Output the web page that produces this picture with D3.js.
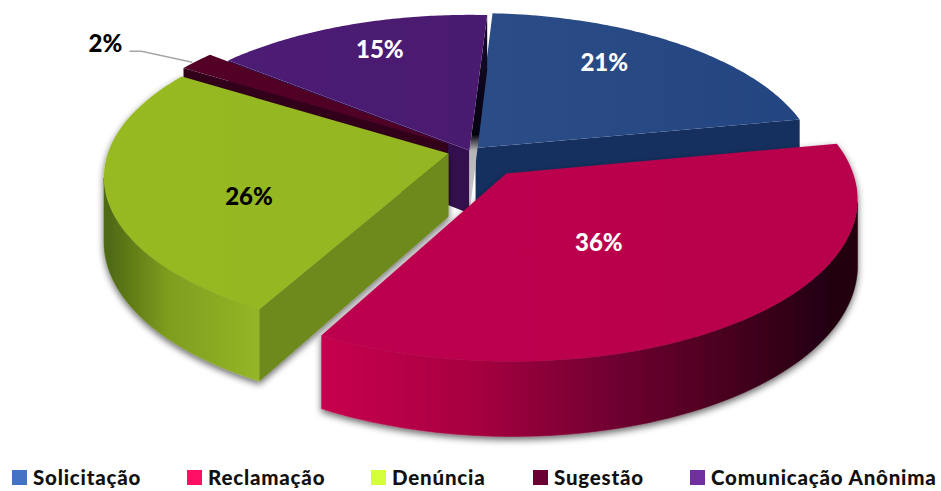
<!DOCTYPE html>
<html><head><meta charset="utf-8">
<script src="https://cdn.jsdelivr.net/npm/d3@7/dist/d3.min.js"></script>
<style>html,body{margin:0;padding:0;background:#fff}svg{display:block}text{font-family:Lato,"Open Sans",sans-serif;font-weight:900}</style>
</head><body><svg id="c" width="941" height="491"></svg>
<script>
const categories = ["Solicitação","Reclamação","Denúncia","Sugestão","Comunicação Anônima"];
const values = [21,36,26,2,15];
const labels = ["21%","36%","26%","2%","15%"];
const legendColors = ["#4472c4","#ff0f64","#d4ff3a","#6b0032","#7030a0"];
const explode = [0.025,0.177,0.065,0.08,0.004];
const topLeft  = ["#35568f","#bf004e","#97ba22","#560028","#4e1c78"];
const topRight = ["#21437f","#b8004c","#8fb01e","#45001e","#451a68"];
const rimStops = [
  [[0,"#16305c"],[1,"#15294f"]],
  [[0.29,"#c8004f"],[0.5,"#a5003f"],[0.68,"#6e0030"],[0.82,"#4a001f"],[0.97,"#200010"]],
  [[0.013,"#4f6a12"],[0.09,"#7f9d1f"],[0.21,"#94b626"]],
  [[0,"#3a0018"],[1,"#3a0018"]],
  [[0,"#3a1458"],[1,"#3a1458"]]];
const faceColor = ["#15305f","#a0003f","#6e8a1e","#33001a","#33104d"];
const labelColor = ["#fff","#fff","#000","#000","#fff"];
const labelAt = [0.62,0.46,0.62,0,0.72];
const labelNudge = [[-1,-18],[-9,6],[10,18],[0,0],[0,-7]];

const svg = d3.select("#c"), defs = svg.append("defs");
const cx=470, cy=151, R=340, K=0.455, G=0.14, D=63, start=3.4*Math.PI/180;
const project=(u,v,z)=>{const s=1/(1+G*v);return [cx+R*u*s, cy-R*K*v*s+z*D*s];};
const arcs=d3.pie().sort(null).startAngle(start).endAngle(start+2*Math.PI)(values);
const xGrad=d3.scaleLinear().domain([0,1]).range([100,860]);

const f=defs.append("filter").attr("id","shadow").attr("x","-10%").attr("y","-10%").attr("width","120%").attr("height","125%");
f.append("feGaussianBlur").attr("in","SourceAlpha").attr("stdDeviation",3.5).attr("result","b");
f.append("feOffset").attr("in","b").attr("dx",0).attr("dy",3).attr("result","o");
f.append("feComponentTransfer").attr("in","o").attr("result","o2").append("feFuncA").attr("type","linear").attr("slope",0.6);
const m=f.append("feMerge");m.append("feMergeNode").attr("in","o2");m.append("feMergeNode").attr("in","SourceGraphic");

arcs.forEach((a,i)=>{
  const g=defs.append("linearGradient").attr("id","rim"+i).attr("gradientUnits","userSpaceOnUse").attr("x1",xGrad(0)).attr("x2",xGrad(1)).attr("y1",0).attr("y2",0);
  rimStops[i].forEach(p=>g.append("stop").attr("offset",p[0]).attr("stop-color",p[1]));
  const t=defs.append("linearGradient").attr("id","top"+i).attr("gradientUnits","userSpaceOnUse").attr("x1",xGrad(0)).attr("x2",xGrad(1)).attr("y1",0).attr("y2",0);
  t.append("stop").attr("offset",0).attr("stop-color",topLeft[i]);
  t.append("stop").attr("offset",1).attr("stop-color",topRight[i]);
});
const gap=defs.append("linearGradient").attr("id","gap").attr("gradientUnits","userSpaceOnUse").attr("x1",0).attr("x2",0).attr("y1",14).attr("y2",215);
[[0,"#1a0c30"],[0.6,"#05020f"],[0.68,"#b4b4b4"],[1,"#cfcfcf"]].forEach(p=>gap.append("stop").attr("offset",p[0]).attr("stop-color",p[1]));

const line=d3.line();
const drawOrder=[0,4,3,2,1];
drawOrder.forEach(i=>{
  const a=arcs[i], mid=(a.startAngle+a.endAngle)/2;
  const ox=explode[i]*Math.sin(mid), oy=explode[i]*Math.cos(mid);
  const P=(th,r,z)=>project(ox+r*Math.sin(th),oy+r*Math.cos(th),z);
  const samples=d3.range(0,81).map(n=>a.startAngle+(a.endAngle-a.startAngle)*n/80);
  const group=svg.append("g").attr("class","slice").attr("filter",(i===1||i===2)?"url(#shadow)":null);
  const vis=samples.filter((th,n)=>{const nxt=samples[Math.min(n+1,80)],prv=samples[Math.max(n-1,0)];return P(nxt,1,0)[0]<P(prv,1,0)[0];});
  if(vis.length>1){
    const pts=vis.map(t=>P(t,1,0)).concat(vis.slice().reverse().map(t=>P(t,1,1)));
    group.append("path").attr("d",line(pts)+"Z").attr("fill",`url(#rim${i})`).attr("stroke",`url(#rim${i})`).attr("stroke-width",0.5);
  }
  const face=(th,sign)=>{
    const A=P(th,0,0),B=P(th,1,0),C=P(th,1,1),E=P(th,0,1);
    const cr=(B[0]-A[0])*(C[1]-B[1])-(B[1]-A[1])*(C[0]-B[0]);
    if(cr*sign>0) group.append("path").attr("d",line([A,B,C,E])+"Z").attr("fill",(i===4&&sign>0)?"url(#gap)":faceColor[i]);
  };
  face(a.startAngle,-1); face(a.endAngle,1);
  const topPts=[P(0,0,0)].concat(samples.map(t=>P(t,1,0)));
  group.append("path").attr("d",line(topPts)+"Z").attr("fill",`url(#top${i})`);
});

arcs.forEach((a,i)=>{
  if(i===3) return;
  const mid=(a.startAngle+a.endAngle)/2, r=labelAt[i];
  const p=project(explode[i]*Math.sin(mid)+r*Math.sin(mid),explode[i]*Math.cos(mid)+r*Math.cos(mid),0);
  svg.append("text").attr("x",p[0]+labelNudge[i][0]).attr("y",p[1]+labelNudge[i][1]).attr("text-anchor","middle").attr("dy","0.35em").attr("font-size",24).attr("fill",labelColor[i]).text(labels[i]);
});
const a3=arcs[3],m3=(a3.startAngle+a3.endAngle)/2;
const tip=project((explode[3]+1)*Math.sin(m3),(explode[3]+1)*Math.cos(m3),0);
svg.append("path").attr("d",line([[tip[0]-4,tip[1]+1],[tip[0]-55,tip[1]-10],[tip[0]-67,tip[1]-10]])).attr("fill","none").attr("stroke","#a6a6a6").attr("stroke-width",1.4);
svg.append("text").attr("x",tip[0]-91).attr("y",tip[1]-18).attr("text-anchor","middle").attr("dy","0.35em").attr("font-size",24).attr("fill","#000").text(labels[3]);

const lx=d3.scaleOrdinal().domain(categories).range([12,187,371,533,690]);
const lg=svg.append("g").selectAll("g").data(categories).join("g").attr("transform",d=>`translate(${lx(d)},0)`);
lg.append("rect").attr("y",470).attr("width",15).attr("height",15).attr("fill",(d,i)=>legendColors[i]);
lg.append("text").attr("x",21).attr("y",485).attr("font-size",20.5).attr("letter-spacing",0.8).attr("fill","#111").text(d=>d);
</script></body></html>
